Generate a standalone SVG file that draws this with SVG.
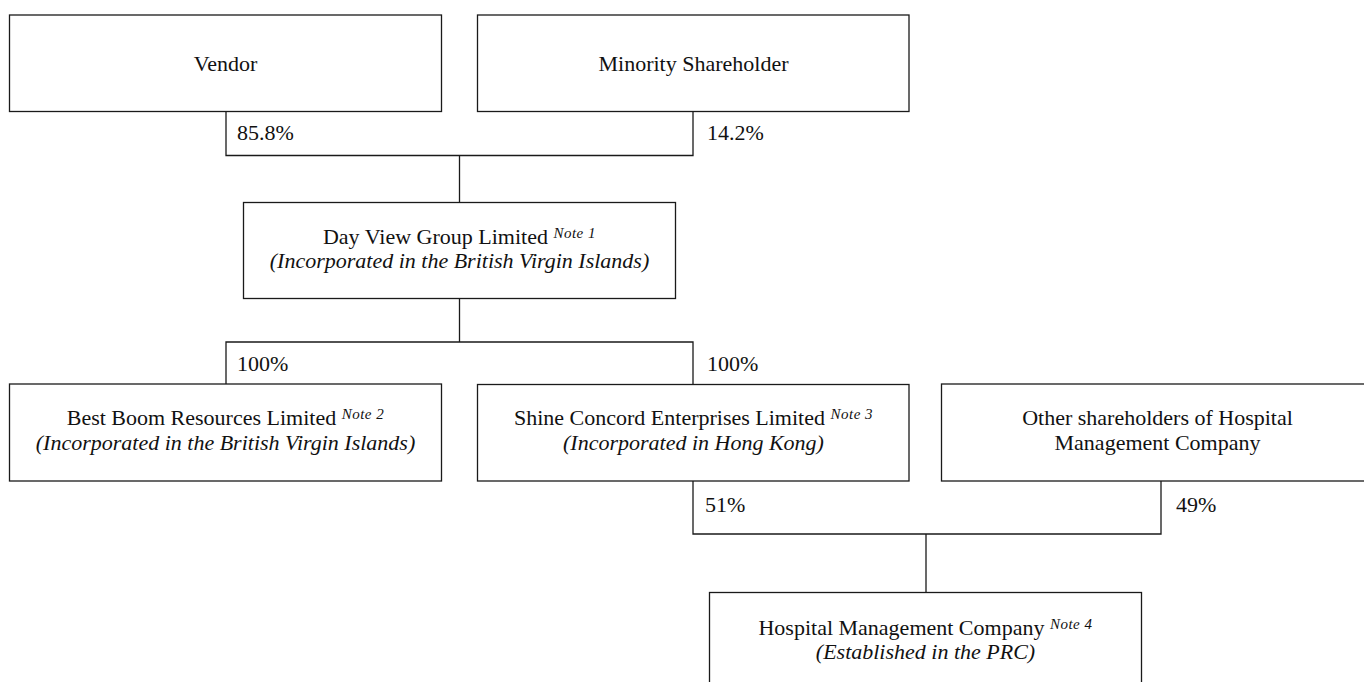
<svg xmlns="http://www.w3.org/2000/svg" width="1364" height="682" viewBox="0 0 1364 682">
<style>
.box{fill:#fff;stroke:#1a1a1a;stroke-width:1.3}
.ln{fill:none;stroke:#1a1a1a;stroke-width:1.3}
text{font-family:"Liberation Serif","Times New Roman",serif;font-size:22px;fill:#111}
.c{text-anchor:middle}
.i{font-style:italic}
.sup{font-style:italic;font-size:15px;letter-spacing:0.5px}
</style>
<rect width="1364" height="682" fill="#fff"/>
<g id="connectors">
<path class="ln" d="M226,111.5 V155.5 H693 V111.5 M459.5,155.5 V202.5"/>
<path class="ln" d="M459.5,298.5 V342 M226,384 V342 H693 V384.5"/>
<path class="ln" d="M693,481 V534 H1161 V481 M926,534 V592.5"/>
</g>
<g id="vendor">
<rect class="box" x="9.5" y="15" width="432" height="96.5"/>
<text class="c" x="225.5" y="71">Vendor</text>
</g>
<g id="minority">
<rect class="box" x="477.5" y="15" width="431.5" height="96.5"/>
<text class="c" x="693.5" y="71">Minority Shareholder</text>
</g>
<g id="labels-top">
<text x="237" y="140">85.8%</text>
<text x="707" y="140">14.2%</text>
</g>
<g id="dayview">
<rect class="box" x="243.5" y="202.5" width="432" height="96"/>
<text class="c" x="459.5" y="243.5">Day View Group Limited <tspan class="sup" dy="-6">Note 1</tspan></text>
<text class="c i" x="459.5" y="268">(Incorporated in the British Virgin Islands)</text>
</g>
<g id="labels-mid">
<text x="237" y="371">100%</text>
<text x="707" y="371">100%</text>
</g>
<g id="bestboom">
<rect class="box" x="9.5" y="384" width="432" height="97"/>
<text class="c" x="225.5" y="425">Best Boom Resources Limited <tspan class="sup" dy="-6">Note 2</tspan></text>
<text class="c i" x="225.5" y="449.5">(Incorporated in the British Virgin Islands)</text>
</g>
<g id="shine">
<rect class="box" x="477.5" y="384.5" width="431.5" height="96.5"/>
<text class="c" x="693.5" y="425">Shine Concord Enterprises Limited <tspan class="sup" dy="-6">Note 3</tspan></text>
<text class="c i" x="693.5" y="449.5">(Incorporated in Hong Kong)</text>
</g>
<g id="others">
<rect class="box" x="941.5" y="384" width="432" height="97"/>
<text class="c" x="1157.5" y="425">Other shareholders of Hospital</text>
<text class="c" x="1157.5" y="449.5">Management Company</text>
</g>
<g id="labels-low">
<text x="705" y="512">51%</text>
<text x="1176" y="512">49%</text>
</g>
<g id="hmc">
<rect class="box" x="709.5" y="592.5" width="432" height="96"/>
<text class="c" x="925.5" y="634.5">Hospital Management Company <tspan class="sup" dy="-6">Note 4</tspan></text>
<text class="c i" x="925.5" y="658.5">(Established in the PRC)</text>
</g>
</svg>
